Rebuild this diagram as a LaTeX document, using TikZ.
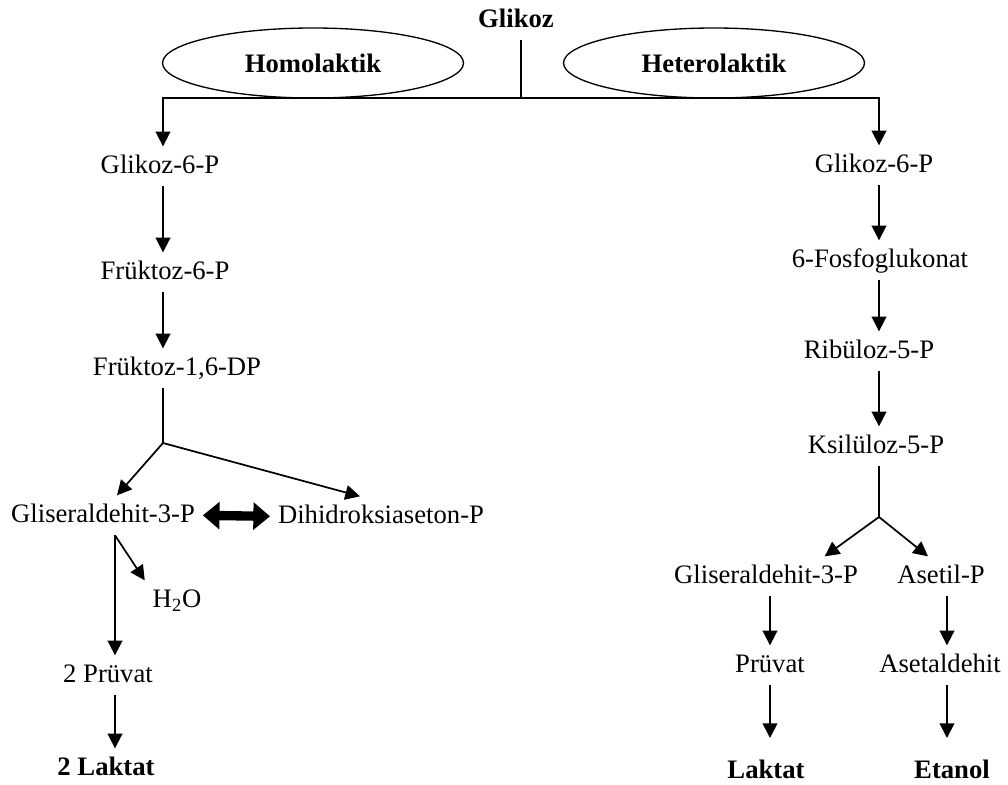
\documentclass[tikz,border=0pt]{standalone}
\usepackage{fontspec}
\setmainfont{Liberation Serif}
\usetikzlibrary{arrows.meta,shapes.geometric}
\tikzset{
  lbl/.style={anchor=base,inner sep=0pt,outer sep=6pt,text height=14pt,
              text depth=4pt,font=\fontsize{20}{24}\selectfont},
  blbl/.style={lbl,font=\fontsize{20}{24}\selectfont\bfseries},
  oval/.style={ellipse,draw,line width=1pt,inner sep=0pt,minimum width=225.75pt,
              minimum height=52.5pt,font=\fontsize{20}{24}\selectfont\bfseries},
  ln/.style={line width=1pt},
  arr/.style={-{Triangle[length=11pt,width=11pt]},line width=1.3pt},
  dbl/.style={{Triangle[length=12.5pt,width=20pt]}-{Triangle[length=12.5pt,width=20pt]},
              line width=7pt},
}
\begin{document}
\begin{tikzpicture}[x=0.75pt,y=-0.75pt]
  \useasboundingbox (0,0) rectangle (1008,785);
  % top
  \node[blbl] (glc) at (516,27) {Glikoz};
  \node[oval] (homo) at (313,63) {Homolaktik};
  \node[oval] (hetero) at (714,63) {Heterolaktik};
  \coordinate (top) at (521,98);
  \coordinate (jl) at (163,98);
  \coordinate (jr) at (879,98);
  \draw[ln] (glc.south -| top) -- (top);
  % homolaktik
  \node[lbl] (g6pL) at (160,173) {Glikoz-6-P};
  \node[lbl] (f6p) at (165,279) {Früktoz-6-P};
  \node[lbl] (f16dp) at (177,375) {Früktoz-1,6-DP};
  \node[lbl] (g3pL) at (103,522) {Gliseraldehit-3-P};
  \node[lbl] (dhap) at (381,523) {Dihidroksiaseton-P};
  \node[lbl] (h2o) at (177,607) {H\textsubscript{2}O};
  \node[lbl] (pyr2) at (108,682) {2 Prüvat};
  \node[blbl] (lac2) at (106,775) {2 Laktat};
  \coordinate (b1) at (163,443);
  \coordinate (b2) at ([xshift=9pt]g3pL.south);
  \draw[arr] (top) -| (jl |- g6pL.north);
  \foreach \a/\b in {g6pL/f6p,f6p/f16dp}
    \draw[arr] (\a.south -| jl) -- (\b.north -| jl);
  \draw[ln] (f16dp.south -| b1) -- (b1);
  \draw[arr] (b1) -- ([xshift=10.5pt]g3pL.north);
  \draw[arr] (b1) -- ([xshift=-15.75pt]dhap.north);
  \draw[dbl] (g3pL.east) -- (dhap.west);
  \draw[arr] (b2) -- (h2o.north west);
  \draw[arr] (b2) -- (b2 |- pyr2.north);
  \draw[arr] (pyr2.south -| b2) -- (lac2.north -| b2);
  % heterolaktik
  \node[lbl] (g6pR) at (874,172) {Glikoz-6-P};
  \node[lbl] (pgl) at (880,267) {6-Fosfoglukonat};
  \node[lbl] (ru5p) at (869,358) {Ribüloz-5-P};
  \node[lbl] (xu5p) at (876,453) {Ksilüloz-5-P};
  \node[lbl] (g3pR) at (766,583) {Gliseraldehit-3-P};
  \node[lbl] (acp) at (941,583) {Asetil-P};
  \node[lbl] (pyrR) at (770,672) {Prüvat};
  \node[lbl] (acal) at (940,672) {Asetaldehit};
  \node[blbl] (lacR) at (766,778) {Laktat};
  \node[blbl] (etoh) at (952,778) {Etanol};
  \coordinate (b3) at (879,517);
  \coordinate (ex) at (947,583);
  \draw[arr] (top) -| (jr |- g6pR.north);
  \foreach \a/\b in {g6pR/pgl,pgl/ru5p,ru5p/xu5p}
    \draw[arr] (\a.south -| jr) -- (\b.north -| jr);
  \draw[ln] (xu5p.south -| b3) -- (b3);
  \draw[arr] (b3) -- ([xshift=44pt]g3pR.north);
  \draw[arr] (b3) -- ([xshift=-9.75pt]acp.north);
  \draw[arr] (g3pR.south -| pyrR) -- (pyrR.north);
  \draw[arr] (acp.south -| ex) -- (acal.north -| ex);
  \draw[arr,shorten >=10pt] (pyrR.south) -- (lacR.north -| pyrR);
  \draw[arr,shorten >=10pt] (acal.south -| ex) -- (etoh.north -| ex);
\end{tikzpicture}
\end{document}
